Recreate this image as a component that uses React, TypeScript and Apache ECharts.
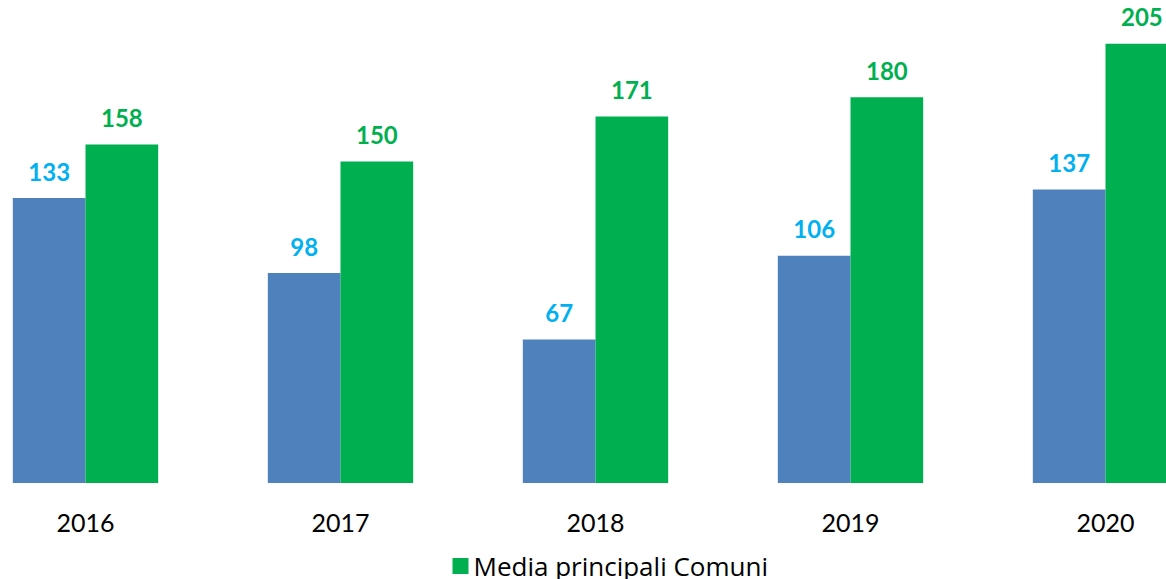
import React, { useEffect, useRef } from "react";
import * as echarts from "echarts";

const years = ["2016", "2017", "2018", "2019", "2020"];
const blueValues = [133, 98, 67, 106, 137];
const greenValues = [158, 150, 171, 180, 205];
const blueName = "Comune";
const greenName = "Media principali Comuni";

const OFFSET = 42.5;

export default function App() {
  const ref = useRef<HTMLDivElement>(null);
  useEffect(() => {
    if (!ref.current) return;
    const chart = echarts.init(ref.current, null, { renderer: "svg" });
    const font = "Lato, 'Open Sans', sans-serif";
    chart.setOption({
      animation: false,
      textStyle: { fontFamily: font },
      grid: { left: 0, right: 0, top: 11.6, bottom: 96, containLabel: false },
      legend: {
        data: [greenName],
        left: 447 + OFFSET,
        top: 548,
        itemWidth: 16,
        itemHeight: 16,
        itemGap: 9,
        icon: "rect",
        textStyle: { fontSize: 26, color: "#000", fontFamily: "'Open Sans', Lato, sans-serif" },
      },
      xAxis: {
        type: "category",
        data: years,
        axisLine: { show: false },
        axisTick: { show: false },
        axisLabel: { fontSize: 25, color: "#000", margin: 26, fontFamily: font },
      },
      yAxis: {
        type: "value",
        min: 0,
        max: 220,
        show: false,
        splitLine: { show: false },
      },
      series: [
        {
          name: blueName,
          type: "bar",
          data: blueValues,
          barGap: "0%",
          barCategoryGap: "43%",
          itemStyle: { color: "#4F81BD" },
          label: {
            show: true,
            position: "top",
            distance: 15,
            color: "#00B0F0",
            fontSize: 24,
            fontWeight: "bold",
            fontFamily: font,
          },
        },
        {
          name: greenName,
          type: "bar",
          data: greenValues,
          barGap: "0%",
          barCategoryGap: "43%",
          itemStyle: { color: "#00B050" },
          label: {
            show: true,
            position: "top",
            distance: 15,
            color: "#00B050",
            fontSize: 24,
            fontWeight: "bold",
            fontFamily: font,
          },
        },
      ],
    });
    return () => chart.dispose();
  }, []);
  return (
    <div style={{ position: "absolute", left: 0, top: 0, width: 1166, height: 579, overflow: "hidden" }}>
      <div
        ref={ref}
        style={{ position: "absolute", left: -OFFSET, top: 0, width: 1275, height: 579 }}
      />
    </div>
  );
}
